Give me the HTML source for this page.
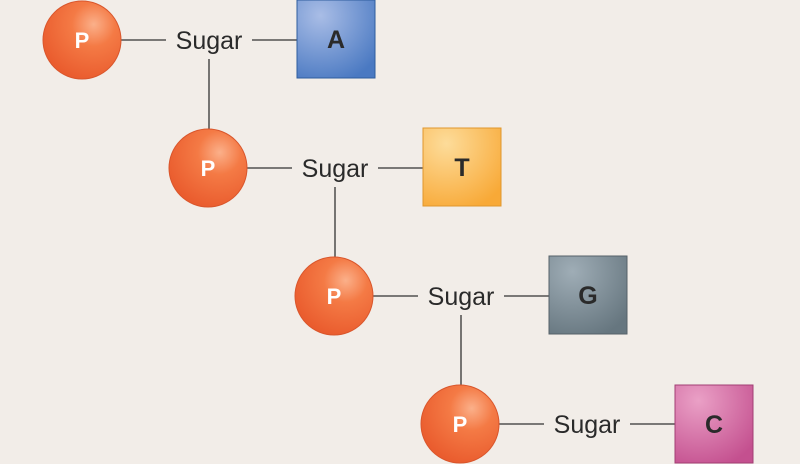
<!DOCTYPE html>
<html><head><meta charset="utf-8"><style>
html,body{margin:0;padding:0;background:#f2ede8;}
svg{display:block}
text{font-family:"Liberation Sans",sans-serif}
</style></head><body>
<svg width="800" height="464" viewBox="0 0 800 464" xmlns="http://www.w3.org/2000/svg">
<defs>
<radialGradient id="ball" cx="0.65" cy="0.3" r="0.8">
<stop offset="0" stop-color="#fbb08a"/>
<stop offset="0.35" stop-color="#f47a45"/>
<stop offset="1" stop-color="#e8572a"/>
</radialGradient>
<radialGradient id="ga" cx="0.3" cy="0.2" r="0.9"><stop offset="0" stop-color="#a9bde6"/><stop offset="1" stop-color="#4a79c2"/></radialGradient>
<radialGradient id="gt" cx="0.3" cy="0.2" r="0.9"><stop offset="0" stop-color="#fddc9a"/><stop offset="1" stop-color="#f8a937"/></radialGradient>
<radialGradient id="gg" cx="0.3" cy="0.2" r="0.9"><stop offset="0" stop-color="#9fadb6"/><stop offset="1" stop-color="#66767f"/></radialGradient>
<radialGradient id="gc" cx="0.3" cy="0.2" r="0.9"><stop offset="0" stop-color="#eaa0c6"/><stop offset="1" stop-color="#c4508f"/></radialGradient>
</defs>
<g stroke="#333" stroke-width="1.3">
<line x1="121" y1="40" x2="166" y2="40"/><line x1="252" y1="40" x2="297" y2="40"/><line x1="209" y1="59" x2="209" y2="129"/>
<line x1="247" y1="168" x2="292" y2="168"/><line x1="378" y1="168" x2="423" y2="168"/><line x1="335" y1="187" x2="335" y2="257"/>
<line x1="373" y1="296" x2="418" y2="296"/><line x1="504" y1="296" x2="549" y2="296"/><line x1="461" y1="315" x2="461" y2="385"/>
<line x1="499" y1="424" x2="544" y2="424"/><line x1="630" y1="424" x2="675" y2="424"/>
</g>
<g stroke="#d9562c" stroke-width="1" fill="url(#ball)">
<circle cx="82" cy="40" r="39"/><circle cx="208" cy="168" r="39"/><circle cx="334" cy="296" r="39"/><circle cx="460" cy="424" r="39"/>
</g>
<g fill="#fff" font-size="22" font-weight="bold" text-anchor="middle">
<text x="82" y="48">P</text><text x="208" y="176">P</text><text x="334" y="304">P</text><text x="460" y="432">P</text>
</g>
<g fill="#2a2a2a" font-size="25" text-anchor="middle">
<text x="209" y="49">Sugar</text><text x="335" y="177">Sugar</text><text x="461" y="305">Sugar</text><text x="587" y="433">Sugar</text>
</g>
<rect x="297" y="0" width="78" height="78" fill="url(#ga)" stroke="#2f5d9e"/>
<rect x="423" y="128" width="78" height="78" fill="url(#gt)" stroke="#e0962d"/>
<rect x="549" y="256" width="78" height="78" fill="url(#gg)" stroke="#556169"/>
<rect x="675" y="385" width="78" height="78" fill="url(#gc)" stroke="#a23e74"/>
<g fill="#2a2a2a" font-size="25" font-weight="bold" text-anchor="middle">
<text x="336" y="48">A</text><text x="462" y="176">T</text><text x="588" y="304">G</text><text x="714" y="433">C</text>
</g>
</svg>
</body></html>
